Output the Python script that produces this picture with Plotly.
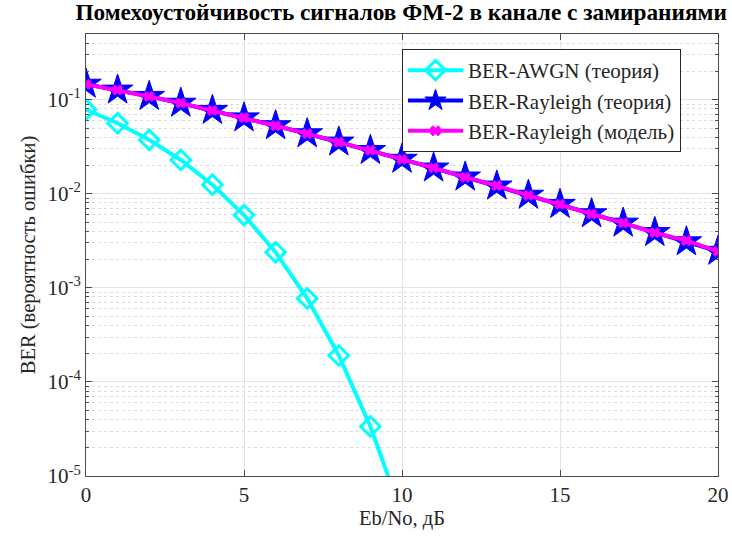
import plotly.graph_objects as go

# ---- data ----
ebno_awgn = [0, 1, 2, 3, 4, 5, 6, 7, 8, 9, 10]
ber_awgn = [0.0786, 0.0563, 0.0375, 0.0229, 0.0125, 0.00595, 0.00239,
            0.000773, 0.000191, 3.36e-5, 3.87e-6]

ebno_ray = list(range(0, 21))
ber_ray_theory = [0.1464, 0.1267, 0.1085, 0.0919, 0.0771, 0.0642, 0.0530,
                  0.0435, 0.0355, 0.0289, 0.0233, 0.0188, 0.0151, 0.0121,
                  0.00966, 0.00771, 0.00614, 0.00488, 0.00388, 0.00309, 0.00245]
ber_ray_model = [0.1462, 0.1270, 0.1083, 0.0921, 0.0769, 0.0644, 0.0529,
                 0.0436, 0.0354, 0.0290, 0.0232, 0.0189, 0.0150, 0.0122,
                 0.00962, 0.00775, 0.00610, 0.00490, 0.00386, 0.00318, 0.00244]

names = ["BER-AWGN (теория)", "BER-Rayleigh (теория)", "BER-Rayleigh (модель)"]
y_tickvals = [1e-5, 1e-4, 1e-3, 1e-2, 1e-1]
y_ticktext = ["10<sup>-5</sup>", "10<sup>-4</sup>", "10<sup>-3</sup>",
              "10<sup>-2</sup>", "10<sup>-1</sup>"]
x_tickvals = [0, 5, 10, 15, 20]

FONT = "Liberation Serif, Times New Roman, serif"

fig = go.Figure()
fig.add_trace(go.Scatter(
    x=ebno_awgn, y=ber_awgn, name=names[0], mode="lines+markers",
    line=dict(color="#00FFFF", width=4),
    marker=dict(symbol="diamond-open", size=15, color="#00FFFF",
                line=dict(width=3, color="#00FFFF")),
))
fig.add_trace(go.Scatter(
    x=ebno_ray, y=ber_ray_theory, name=names[1], mode="lines+markers",
    line=dict(color="#0000FF", width=4),
    marker=dict(symbol="star", size=23, color="#0000FF",
                line=dict(width=1, color="#0000FF")),
))
fig.add_trace(go.Scatter(
    x=ebno_ray, y=ber_ray_model, name=names[2], mode="lines+markers",
    line=dict(color="#FF00FF", width=4),
    marker=dict(symbol="x", size=9, color="#FF00FF",
                line=dict(width=1, color="#FF00FF")),
))

axis_common = dict(
    showline=True, linecolor="#4d4d4d", linewidth=1, mirror="ticks",
    ticks="inside", ticklen=6, tickcolor="#4d4d4d",
    gridcolor="#e3e3e3", gridwidth=1, zeroline=False, automargin=False,
    tickfont=dict(family=FONT, size=21, color="#262626"),
)

fig.update_xaxes(
    range=[0, 20], tickmode="array", tickvals=x_tickvals,
    title=dict(text="Eb/No, дБ", font=dict(family=FONT, size=20.5, color="#262626"),
               standoff=4),
    **axis_common,
)
fig.update_yaxes(
    type="log", range=[-5, -0.30103], tickmode="array",
    tickvals=y_tickvals, ticktext=y_ticktext,
    minor=dict(dtick="D1", ticks="inside", ticklen=3, tickcolor="#4d4d4d",
               showgrid=True, gridcolor="#dcdcdc", griddash="dot", gridwidth=1),
    title=dict(text="BER (вероятность ошибки)",
               font=dict(family=FONT, size=20.5, color="#262626"), standoff=6),
    **axis_common,
)

fig.update_layout(
    width=732, height=536,
    margin=dict(l=86, r=14, t=34, b=60),
    paper_bgcolor="white", plot_bgcolor="white",
    title=dict(text="<b>Помехоустойчивость сигналов ФМ-2 в канале с замираниями</b>",
               font=dict(family=FONT, size=23.3, color="black"),
               x=0.548, xanchor="center", y=0.994, yanchor="top"),
    legend=dict(x=0.5, y=0.966, xanchor="left", yanchor="top",
                bgcolor="white", bordercolor="#262626", borderwidth=1,
                font=dict(family=FONT, size=21, color="#262626"),
                itemwidth=55, tracegroupgap=0),
    showlegend=True,
)

fig.write_html("out.html")
